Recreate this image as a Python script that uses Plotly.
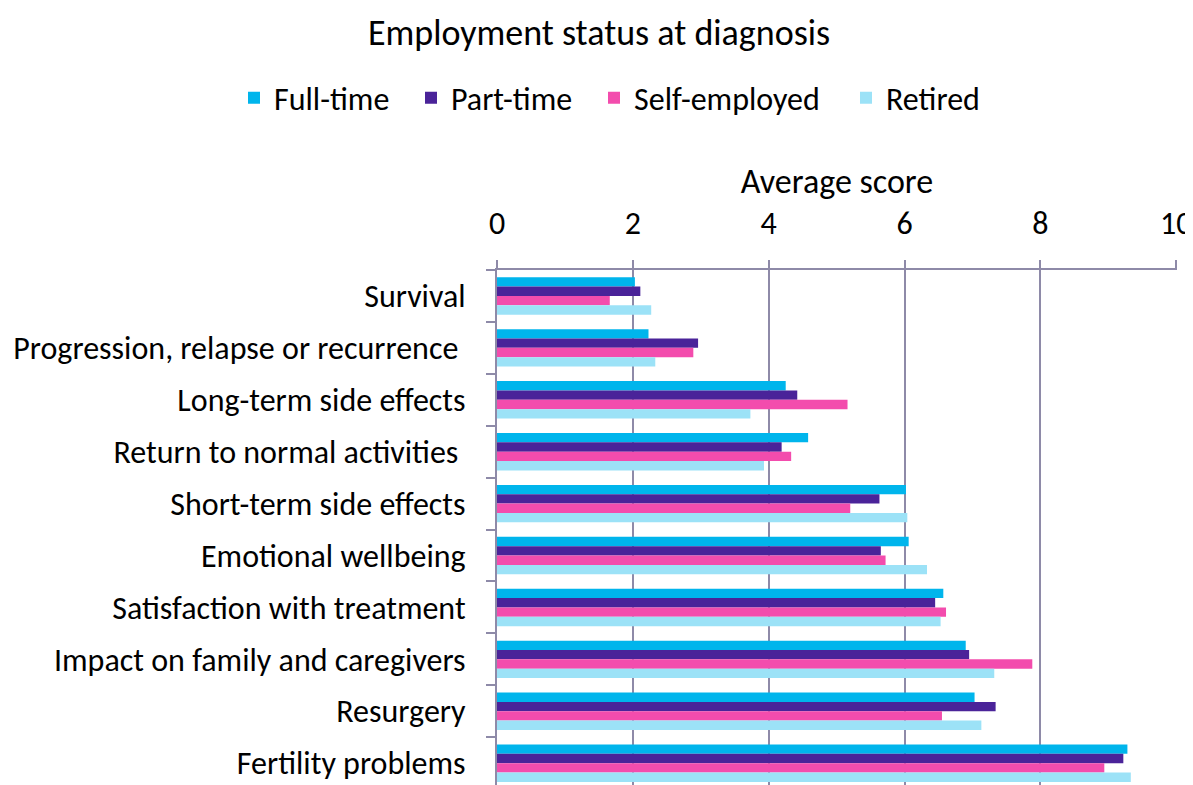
import plotly.graph_objects as go

categories = [
    "Survival",
    "Progression, relapse or recurrence\u00a0",
    "Long-term side effects",
    "Return to normal activities\u00a0",
    "Short-term side effects",
    "Emotional wellbeing",
    "Satisfaction with treatment",
    "Impact on family and caregivers",
    "Resurgery",
    "Fertility problems",
]

full_time = [2.03, 2.23, 4.25, 4.58, 6.02, 6.06, 6.57, 6.90, 7.03, 9.28]
part_time = [2.11, 2.96, 4.42, 4.19, 5.63, 5.65, 6.45, 6.95, 7.34, 9.22]
self_employed = [1.66, 2.89, 5.16, 4.33, 5.20, 5.72, 6.61, 7.88, 6.55, 8.94]
retired = [2.27, 2.33, 3.73, 3.93, 6.04, 6.33, 6.53, 7.32, 7.13, 9.33]

series_names = ["Full-time", "Part-time", "Self-employed", "Retired"]
series_values = [full_time, part_time, self_employed, retired]
series_colors = ["#00B5EC", "#4A2399", "#F34CAD", "#9CE2F7"]

x_ticks = [0, 2, 4, 6, 8, 10]

FONT = "Carlito, Calibri, Lato, sans-serif"
AXIS_COLOR = "#8E8AA8"

# page body has an 8px margin, so the figure is sized/positioned to compensate
W, H = 1185, 777
ML, MR, MT, MB = 489, 16, 262, 0
PLOT_W = W - ML - MR
PLOT_H = H - MT - MB

# legend entry widths (px) to reproduce the spacing of the reference legend
legend_widths = [132, 138, 207, 100]

fig = go.Figure()
for name, vals, col, lw in zip(series_names, series_values, series_colors, legend_widths):
    fig.add_trace(go.Bar(
        y=categories, x=vals, name=name, orientation="h",
        marker=dict(color=col, line=dict(width=0)),
        legendwidth=lw,
    ))

fig.update_layout(
    width=W, height=H,
    paper_bgcolor="white", plot_bgcolor="white",
    font=dict(family=FONT, size=32, color="black"),
    margin=dict(l=ML, r=MR, t=MT, b=MB, autoexpand=False),
    barmode="group", bargap=0.28, bargroupgap=0,
    title=dict(text="Employment status at diagnosis", x=591 / W, xanchor="center",
               xref="container", y=1 - 24 / H, yanchor="middle", yref="container",
               font=dict(size=36)),
    legend=dict(orientation="h", xref="paper", x=(226 - ML) / PLOT_W, xanchor="left",
                yref="paper", y=(H - MB - 90) / PLOT_H, yanchor="middle",
                font=dict(size=32), traceorder="normal"),
    showlegend=True,
)

fig.update_xaxes(
    side="top", range=[0, 10.01], tickvals=x_ticks,
    showgrid=True, gridcolor=AXIS_COLOR, gridwidth=2,
    showline=True, linecolor=AXIS_COLOR, linewidth=2,
    ticks="outside", ticklen=8, tickwidth=2, tickcolor=AXIS_COLOR,
    zeroline=False, tickfont=dict(size=32),
    ticklabelstandoff=13, ticklabeloverflow="allow",
    title=dict(text="Average score", standoff=0, font=dict(size=34)),
)

fig.update_yaxes(
    range=[9.42, -0.5], showgrid=False,
    showline=True, linecolor=AXIS_COLOR, linewidth=2,
    ticks="outside", ticklen=9, tickwidth=2, tickcolor=AXIS_COLOR,
    tickson="boundaries", ticklabelstandoff=23,
    tickfont=dict(size=32),
)

fig.write_html(
    "out.html",
    post_script="document.documentElement.style.overflow='hidden';"
                "document.body.style.overflow='hidden';",
)
